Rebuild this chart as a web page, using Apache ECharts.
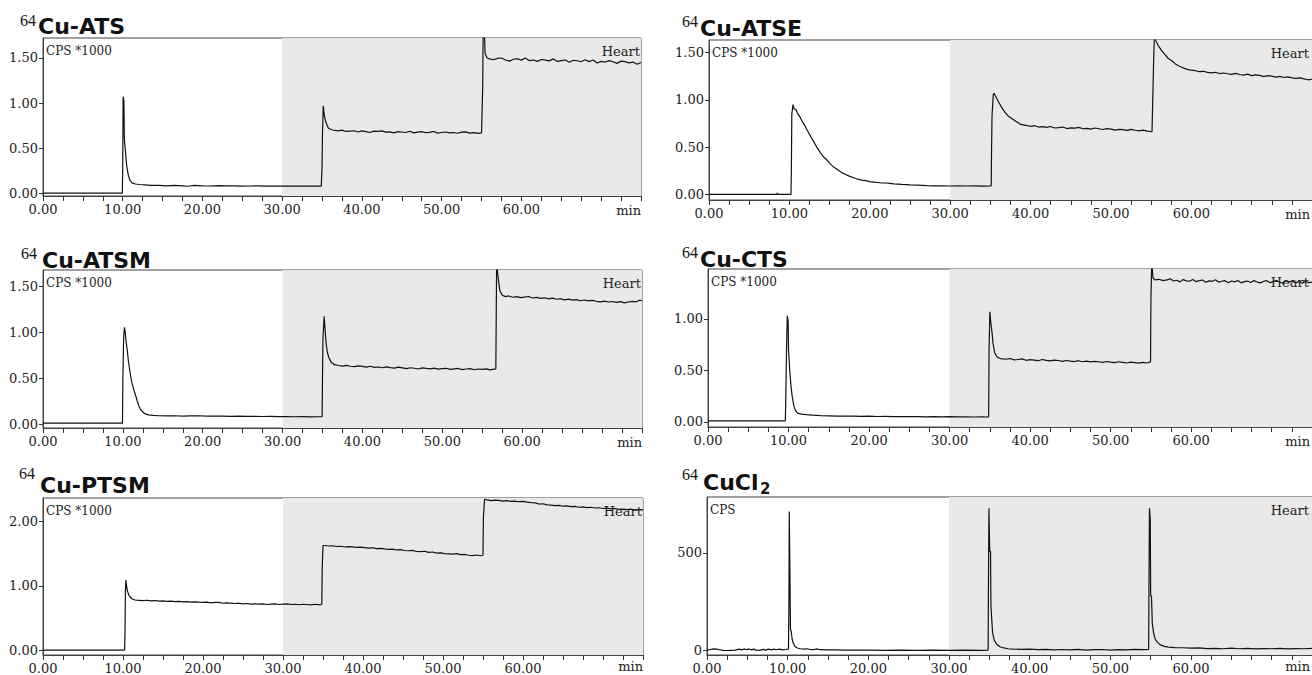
<!DOCTYPE html>
<html>
<head>
<meta charset="utf-8">
<script src="https://cdn.jsdelivr.net/npm/echarts@6/dist/echarts.min.js"></script>
<style>
html, body { margin: 0; padding: 0; background: #fff; }
#main { width: 1312px; height: 675px; }
</style>
</head>
<body>
<div id="main"></div>
<script>
// ---- data (time in min, signal) ----
var xLabelValues = [0, 10, 20, 30, 40, 50, 60];
var xTickValues = [0, 2.5, 5, 7.5, 10, 12.5, 15, 17.5, 20, 22.5, 25, 27.5, 30, 32.5, 35, 37.5,
    40, 42.5, 45, 47.5, 50, 52.5, 55, 57.5, 60, 62.5, 65, 67.5, 70, 72.5, 75];
var shadeFrom = 30, shadeTo = 75;

var yTicksAts = [0, 0.5, 1.0, 1.5];
var yTicksAtse = [0, 0.5, 1.0, 1.5];
var yTicksAtsm = [0, 0.5, 1.0, 1.5];
var yTicksCts = [0, 0.5, 1.0];
var yTicksPtsm = [0, 1.0, 2.0];
var yTicksCucl2 = [0, 500];

var atsTrace = [[0,0],[9.95,0],[10.0,0.3],[10.05,1.07],[10.15,1.02],[10.2,0.6],[10.35,0.45],[10.5,0.3],
    [10.7,0.2],[10.9,0.14],[11.2,0.11],[11.6,0.1],[12.1,0.095],[12.8,0.09],[13.5,0.085],[14.5,0.085],
    [15.5,0.08],[16.5,0.085],[17.5,0.08],[18.2,0.075],[19,0.085],[20,0.08],[21,0.078],[22,0.082],
    [23,0.079],[24,0.08],[25,0.077],[26,0.078],[27,0.08],[28,0.076],[29,0.077],[30,0.078],[31,0.077],
    [32,0.076],[33,0.078],[34,0.077],[34.9,0.077],
    [35.0,0.3],[35.05,0.65],[35.15,0.97],[35.3,0.85],[35.5,0.78],[35.8,0.72],[36.3,0.7],[37,0.69],
    [37.5,0.698],[38,0.684],[38.5,0.688],[39,0.692],[39.5,0.678],[40,0.69],[40.5,0.682],[41,0.672],
    [41.5,0.688],[42,0.684],[42.5,0.69],[43,0.676],[43.5,0.68],[44,0.668],[44.5,0.682],[45,0.678],
    [45.5,0.672],[46,0.686],[46.5,0.668],[47,0.676],[47.5,0.682],[48,0.67],[48.5,0.674],[49,0.684],
    [49.5,0.665],[50,0.672],[50.5,0.678],[51,0.668],[51.5,0.672],[52,0.664],[52.5,0.676],[53,0.68],
    [53.5,0.666],[54,0.67],[54.6,0.662],[55.0,0.668],
    [55.15,1.2],[55.2,1.8],[55.35,1.8],[55.45,1.55],[55.7,1.5],[56,1.49],[56.5,1.48],[57,1.495],
    [57.5,1.5],[58,1.478],[58.5,1.465],[59,1.486],[59.5,1.492],[60,1.476],[60.5,1.5],[61,1.47],
    [61.5,1.478],[62,1.462],[62.5,1.483],[63,1.477],[63.5,1.468],[64,1.49],[64.5,1.462],[65,1.47],
    [65.5,1.478],[66,1.452],[66.5,1.475],[67,1.469],[67.5,1.458],[68,1.48],[68.5,1.46],[69,1.478],
    [69.5,1.445],[70,1.462],[70.5,1.455],[71,1.47],[71.5,1.458],[72,1.44],[72.5,1.465],[73,1.46],
    [73.5,1.446],[74,1.455],[74.5,1.43],[75,1.45]];

var atseTrace = [[0,0],[8.4,0],[8.5,0.012],[8.6,0],[10.2,0],[10.25,0.3],[10.3,0.85],[10.45,0.95],
    [10.6,0.9],[10.8,0.9],[11.0,0.86],[11.3,0.82],[11.6,0.77],[11.9,0.73],[12.2,0.68],[12.6,0.62],
    [13.0,0.56],[13.4,0.5],[13.8,0.45],[14.2,0.4],[14.7,0.36],[15.1,0.32],[15.5,0.29],[16,0.26],
    [16.5,0.23],[17,0.21],[17.5,0.19],[18,0.175],[18.5,0.16],[19,0.15],[19.5,0.145],[20,0.135],
    [20.5,0.13],[21,0.125],[21.5,0.12],[22,0.12],[22.5,0.115],[23,0.11],[23.5,0.108],[24,0.105],
    [25,0.1],[26,0.097],[27,0.093],[28,0.09],[29,0.09],[30,0.088],[31,0.09],[32,0.088],[33,0.089],
    [34,0.087],[35.1,0.09],
    [35.15,0.5],[35.2,0.82],[35.35,1.05],[35.45,1.07],[35.7,1.03],[36,0.98],[36.4,0.92],[36.8,0.87],
    [37.2,0.83],[37.7,0.8],[38.2,0.77],[38.8,0.74],[39.4,0.73],[40,0.72],[40.5,0.726],[41,0.712],
    [41.5,0.716],[42,0.708],[42.5,0.718],[43,0.702],[43.5,0.706],[44,0.712],[44.5,0.696],[45,0.704],
    [45.5,0.7],[46,0.708],[46.5,0.694],[47,0.698],[47.5,0.69],[48,0.702],[48.5,0.694],[49,0.686],
    [49.5,0.696],[50,0.69],[50.5,0.68],[51,0.688],[51.5,0.684],[52,0.676],[52.5,0.688],[53,0.678],
    [53.5,0.672],[54,0.68],[54.5,0.668],[55.1,0.662],
    [55.2,1.03],[55.3,1.4],[55.4,1.7],[55.6,1.62],[55.9,1.57],[56.3,1.52],[56.7,1.48],[57.1,1.44],
    [57.6,1.41],[58,1.38],[58.4,1.36],[58.8,1.345],[59.2,1.33],[59.6,1.32],[60,1.315],[60.5,1.308],
    [61,1.298],[61.5,1.302],[62,1.29],[62.5,1.286],[63,1.292],[63.5,1.278],[64,1.284],[64.5,1.276],
    [65,1.27],[65.5,1.28],[66,1.268],[66.5,1.262],[67,1.272],[67.5,1.256],[68,1.264],[68.5,1.258],
    [69,1.246],[69.5,1.256],[70,1.25],[70.5,1.24],[71,1.248],[71.5,1.236],[72,1.242],[72.5,1.232],
    [73,1.226],[73.5,1.232],[74,1.222],[74.5,1.212],[75,1.218]];

var atsmTrace = [[0,0.01],[9.95,0.01],[10.0,0.5],[10.1,0.95],[10.2,1.05],[10.3,1.0],[10.4,0.9],
    [10.55,0.8],[10.7,0.68],[10.9,0.56],[11.1,0.46],[11.35,0.38],[11.6,0.31],[11.8,0.25],[12.0,0.2],
    [12.2,0.16],[12.5,0.13],[12.8,0.11],[13.2,0.1],[13.8,0.095],[14.5,0.09],[15.5,0.088],[16.5,0.09],
    [17.5,0.086],[18.5,0.088],[19.5,0.09],[20.5,0.087],[21.5,0.085],[22.5,0.086],[23.5,0.084],
    [24.5,0.085],[25.5,0.083],[26.5,0.084],[27.5,0.082],[28.5,0.083],[29.5,0.08],[30.5,0.082],
    [31.5,0.079],[32.5,0.081],[33.5,0.078],[34.5,0.079],[34.95,0.08],
    [35.0,0.55],[35.05,0.92],[35.2,1.17],[35.3,1.05],[35.45,0.88],[35.6,0.78],[35.8,0.72],[36.1,0.67],
    [36.5,0.645],[37,0.636],[37.5,0.63],[38,0.638],[38.5,0.628],[39,0.624],[39.5,0.632],[40,0.626],
    [40.5,0.618],[41,0.628],[41.5,0.616],[42,0.62],[42.5,0.612],[43,0.622],[43.5,0.614],[44,0.608],
    [44.5,0.618],[45,0.61],[45.5,0.602],[46,0.612],[46.5,0.606],[47,0.598],[47.5,0.61],[48,0.604],
    [48.5,0.6],[49,0.608],[49.5,0.596],[50,0.602],[50.5,0.606],[51,0.594],[51.5,0.6],[52,0.604],
    [52.5,0.592],[53,0.598],[53.5,0.602],[54,0.59],[54.5,0.598],[55,0.594],[55.5,0.6],[56,0.588],
    [56.5,0.596],[56.7,0.6],
    [56.75,1.2],[56.8,1.75],[56.95,1.62],[57.05,1.55],[57.2,1.45],[57.5,1.4],[57.9,1.385],[58.3,1.392],
    [58.8,1.378],[59.3,1.384],[59.8,1.374],[60.3,1.38],[60.8,1.386],[61.3,1.37],[61.8,1.376],
    [62.3,1.366],[62.8,1.372],[63.3,1.36],[63.8,1.368],[64.3,1.356],[64.8,1.362],[65.3,1.35],
    [65.8,1.358],[66.3,1.346],[66.8,1.352],[67.3,1.34],[67.8,1.348],[68.3,1.338],[68.8,1.344],
    [69.3,1.334],[69.8,1.328],[70.3,1.336],[70.8,1.326],[71.3,1.332],[71.8,1.322],[72.3,1.33],
    [72.8,1.316],[73.3,1.326],[73.8,1.334],[74.3,1.328],[74.7,1.346],[75,1.34]];

var ctsTrace = [[0,0.01],[9.6,0.01],[9.65,0.18],[9.75,0.7],[9.85,1.03],[9.95,0.98],[10.0,0.7],
    [10.15,0.5],[10.3,0.35],[10.45,0.25],[10.65,0.16],[10.85,0.11],[11.15,0.085],[11.6,0.075],
    [12.2,0.07],[13,0.065],[14,0.06],[15,0.058],[16,0.055],[17,0.057],[18,0.055],[19,0.053],
    [20,0.055],[21,0.052],[22,0.054],[23,0.05],[24,0.052],[25,0.05],[26,0.051],[27,0.049],[28,0.05],
    [29,0.048],[30,0.05],[31,0.048],[32,0.049],[33,0.047],[34,0.048],[34.85,0.047],
    [34.9,0.7],[35.0,1.07],[35.1,0.98],[35.25,0.88],[35.4,0.76],[35.6,0.67],[35.9,0.63],[36.3,0.615],
    [37,0.608],[37.5,0.615],[38,0.602],[38.5,0.606],[39,0.612],[39.5,0.598],[40,0.604],[40.5,0.6],
    [41,0.594],[41.5,0.606],[42,0.598],[42.5,0.592],[43,0.6],[43.5,0.596],[44,0.588],[44.5,0.596],
    [45,0.59],[45.5,0.586],[46,0.594],[46.5,0.584],[47,0.59],[47.5,0.582],[48,0.588],[48.5,0.584],
    [49,0.578],[49.5,0.586],[50,0.58],[50.5,0.576],[51,0.584],[51.5,0.578],[52,0.572],[52.5,0.58],
    [53,0.576],[53.5,0.57],[54,0.578],[54.5,0.572],[54.95,0.582],
    [55.0,1.2],[55.1,1.55],[55.25,1.4],[55.5,1.38],[56,1.385],[56.5,1.372],[57,1.38],[57.4,1.39],
    [57.8,1.368],[58.2,1.376],[58.6,1.36],[59,1.382],[59.4,1.37],[59.8,1.366],[60.2,1.384],
    [60.6,1.362],[61,1.372],[61.4,1.378],[61.8,1.356],[62.2,1.37],[62.6,1.364],[63,1.38],[63.4,1.358],
    [63.8,1.366],[64.2,1.372],[64.6,1.352],[65,1.368],[65.4,1.36],[65.8,1.374],[66.2,1.35],
    [66.6,1.362],[67,1.368],[67.4,1.354],[67.8,1.372],[68.2,1.358],[68.6,1.35],[69,1.366],
    [69.4,1.372],[69.8,1.352],[70.2,1.362],[70.6,1.374],[71,1.356],[71.4,1.348],[71.8,1.368],
    [72.2,1.36],[72.6,1.37],[73,1.352],[73.4,1.362],[73.8,1.346],[74.2,1.366],[74.6,1.352],[75,1.358]];

var ptsmTrace = [[0,0],[10.2,0],[10.25,0.28],[10.3,0.9],[10.35,1.09],[10.45,1.0],[10.55,0.92],
    [10.75,0.85],[11.1,0.8],[11.5,0.78],[12,0.775],[12.5,0.77],[13,0.776],[13.5,0.766],[14,0.772],
    [14.5,0.762],[15,0.766],[15.5,0.758],[16,0.762],[16.5,0.756],[17,0.76],[17.5,0.752],[18,0.756],
    [18.5,0.748],[19,0.752],[19.5,0.746],[20,0.742],[20.5,0.746],[21,0.736],[21.5,0.742],[22,0.744],
    [22.5,0.73],[23,0.736],[23.5,0.73],[24,0.726],[24.5,0.73],[25,0.72],[25.5,0.726],[26,0.716],
    [26.5,0.72],[27,0.716],[27.5,0.72],[28,0.71],[28.5,0.716],[29,0.72],[29.5,0.71],[30,0.716],
    [30.5,0.72],[31,0.71],[31.5,0.714],[32,0.706],[32.5,0.714],[33,0.71],[33.5,0.704],[34,0.714],
    [34.6,0.704],[34.85,0.71],
    [34.9,1.27],[35.0,1.63],[35.3,1.63],[35.7,1.622],[36.2,1.626],[36.7,1.614],[37.2,1.618],
    [37.7,1.606],[38.2,1.612],[38.7,1.608],[39.2,1.6],[39.7,1.604],[40.2,1.596],[40.7,1.588],
    [41.2,1.594],[41.7,1.58],[42.2,1.584],[42.7,1.576],[43.2,1.57],[43.7,1.574],[44.2,1.56],
    [44.7,1.566],[45.2,1.552],[45.7,1.548],[46.2,1.554],[46.7,1.536],[47.2,1.534],[47.7,1.54],
    [48.2,1.522],[48.7,1.528],[49.2,1.512],[49.7,1.516],[50.2,1.504],[50.7,1.5],[51.2,1.496],
    [51.7,1.502],[52.2,1.488],[52.7,1.49],[53.2,1.478],[53.7,1.472],[54.2,1.482],[54.7,1.47],
    [55.0,1.478],
    [55.05,2.07],[55.2,2.35],[55.5,2.34],[56,2.328],[56.5,2.338],[57,2.332],[57.5,2.322],[58,2.33],
    [58.5,2.318],[59,2.322],[59.5,2.312],[60,2.318],[60.5,2.306],[61,2.298],[61.5,2.294],[62,2.276],
    [62.5,2.28],[63,2.262],[63.5,2.258],[64,2.25],[64.5,2.256],[65,2.242],[65.5,2.246],[66,2.236],
    [66.5,2.24],[67,2.226],[67.5,2.232],[68,2.22],[68.5,2.226],[69,2.214],[69.5,2.218],[70,2.206],
    [70.5,2.212],[71,2.2],[71.5,2.206],[72,2.194],[72.5,2.198],[73,2.19],[73.5,2.196],[74,2.18],
    [74.5,2.188],[75,2.184]];

var cucl2Trace = [[0,3],[0.4,6],[0.8,9],[1.2,8],[1.6,5],[2.0,2],[2.5,1],[3.0,2],[3.5,3],[4.0,8],
    [4.3,4],[4.6,9],[4.9,5],[5.2,9],[5.5,4],[5.8,8],[6.1,3],[6.5,2],[7.0,7],[7.3,3],[7.6,8],[8.0,4],
    [8.3,8],[8.6,5],[9.0,8],[9.4,4],[9.8,6],[10.1,8],[10.15,200],[10.2,712],[10.25,517],[10.3,517],
    [10.35,110],[10.45,97],[10.55,60],[10.7,38],[10.9,22],[11.2,14],[11.6,10],[12.0,8],[12.4,10],
    [12.8,6],[13.2,5],[13.6,9],[14.0,5],[15,4],[16,4],[17,3],[18,3],[19,3],[20,3],[22,2],[24,3],
    [26,2],[28,3],[30,2],[32,3],[34,2],[34.85,3],
    [34.9,400],[34.95,729],[35.05,508],[35.15,508],[35.2,229],[35.3,160],[35.4,93],[35.6,55],
    [35.9,34],[36.3,20],[36.8,14],[37.3,10],[38,8],[39,7],[40,8],[41,5],[42,7],[43,4],[44,6],[45,4],
    [46,7],[47,3],[48,5],[49,6],[50,3],[51,5],[52,4],[53,7],[54,5],[54.75,6],
    [54.8,400],[54.85,729],[54.95,670],[55.0,280],[55.1,280],[55.2,140],[55.35,93],[55.55,60],
    [55.8,45],[56.2,30],[56.7,22],[57.2,18],[58,16],[59,15],[60,13],[61,14],[62,11],[63,12],[64,10],
    [65,13],[66,10],[67,12],[68,9],[69,11],[70,10],[71,12],[72,9],[73,11],[74,10],[75,12]];

// ---- panel layout ----
var panels = [
    { title: 'Cu-ATS', trace: atsTrace, yTicks: yTicksAts, unit: 'CPS *1000', dec: 2,
      left: 43, top: 38, width: 598, height: 158, yMin: -0.033, yMax: 1.722,
      sup: [20, 20], main: [38, 26] },
    { title: 'Cu-ATSE', trace: atseTrace, yTicks: yTicksAtse, unit: 'CPS *1000', dec: 2,
      left: 709, top: 40, width: 605, height: 160, yMin: -0.06, yMax: 1.633,
      sup: [682, 21], main: [700, 28] },
    { title: 'Cu-ATSM', trace: atsmTrace, yTicks: yTicksAtsm, unit: 'CPS *1000', dec: 2,
      left: 43, top: 270, width: 599, height: 158, yMin: -0.043, yMax: 1.674,
      sup: [21, 253], main: [42, 260] },
    { title: 'Cu-CTS', trace: ctsTrace, yTicks: yTicksCts, unit: 'CPS *1000', dec: 2,
      left: 708, top: 269, width: 607, height: 158, yMin: -0.05, yMax: 1.485,
      sup: [682, 252], main: [700, 259] },
    { title: 'Cu-PTSM', trace: ptsmTrace, yTicks: yTicksPtsm, unit: 'CPS *1000', dec: 2,
      left: 43, top: 498, width: 600, height: 159, yMin: -0.077, yMax: 2.37,
      sup: [19, 473], main: [40, 485] },
    { title: 'CuCl', sub: '2', trace: cucl2Trace, yTicks: yTicksCucl2, unit: 'CPS', dec: 0,
      left: 707, top: 497, width: 607, height: 159, yMin: -22, yMax: 786,
      sup: [682, 474], main: [703, 482] }
];

var labelFont = 'DejaVu Serif';
var rightLimit = 1310;   // keep corner texts inside the page
var bottomLimit = 666;
var grids = [], xAxes = [], yAxes = [], series = [], graphics = [];

panels.forEach(function (p, i) {
    var rightX = Math.min(p.left + p.width, rightLimit);
    grids.push({
        left: p.left, top: p.top, width: p.width, height: p.height,
        show: true, borderColor: '#444', borderWidth: 1, backgroundColor: 'transparent'
    });
    xAxes.push({
        gridIndex: i, type: 'value', min: 0, max: shadeTo,
        axisLine: { show: true, onZero: false, lineStyle: { color: '#444', width: 1 } },
        axisTick: { show: true, length: 5, customValues: xTickValues, lineStyle: { color: '#333' } },
        axisLabel: {
            customValues: xLabelValues, margin: 7, color: '#222',
            fontFamily: labelFont, fontSize: 13,
            formatter: function (v) { return v.toFixed(2); }
        },
        splitLine: { show: false }
    });
    yAxes.push({
        gridIndex: i, type: 'value', min: p.yMin, max: p.yMax,
        axisLine: { show: true, lineStyle: { color: '#444', width: 1 } },
        axisTick: { show: true, length: 4, customValues: p.yTicks, lineStyle: { color: '#333' } },
        axisLabel: {
            customValues: p.yTicks, margin: 5, color: '#222',
            fontFamily: labelFont, fontSize: 13,
            formatter: function (v) { return v.toFixed(p.dec); }
        },
        splitLine: { show: false }
    });
    series.push({
        type: 'line', xAxisIndex: i, yAxisIndex: i, data: p.trace,
        showSymbol: false, symbol: 'none', clip: true, animation: false,
        lineStyle: { color: '#111', width: 1.2 },
        markArea: {
            silent: true,
            itemStyle: { color: '#e9e9e9' },
            data: [[{ xAxis: shadeFrom }, { xAxis: shadeTo }]]
        }
    });

    // titles: superscript mass number + compound
    graphics.push({ type: 'text', x: p.sup[0], y: p.sup[1], z: 10,
        style: { text: '64', fontFamily: 'Liberation Serif', fontSize: 16, fill: '#111',
                 align: 'left', verticalAlign: 'middle' } });
    graphics.push({ type: 'text', x: p.main[0], y: p.main[1], z: 10,
        style: { text: p.title, fontFamily: 'DejaVu Sans', fontWeight: 'bold', fontSize: 22,
                 fill: '#111', align: 'left', verticalAlign: 'middle' } });
    if (p.sub) {
        graphics.push({ type: 'text', x: p.main[0] + 57, y: p.main[1] + 7, z: 10,
            style: { text: p.sub, fontFamily: 'DejaVu Sans', fontWeight: 'bold', fontSize: 15,
                     fill: '#111', align: 'left', verticalAlign: 'middle' } });
    }
    graphics.push({ type: 'text', x: p.left + 3, y: p.top + 13, z: 10,
        style: { text: p.unit, fontFamily: labelFont, fontSize: 12, fill: '#222',
                 align: 'left', verticalAlign: 'middle' } });
    graphics.push({ type: 'text', x: rightX - 1, y: p.top + 13, z: 10,
        style: { text: 'Heart', fontFamily: labelFont, fontSize: 13, fill: '#222',
                 align: 'right', verticalAlign: 'middle' } });
    graphics.push({ type: 'text', x: rightX, y: Math.min(p.top + p.height + 14, bottomLimit), z: 10,
        style: { text: 'min', fontFamily: labelFont, fontSize: 13, fill: '#222',
                 align: 'right', verticalAlign: 'middle' } });
});

var option = {
    animation: false,
    backgroundColor: '#fff',
    grid: grids,
    xAxis: xAxes,
    yAxis: yAxes,
    series: series,
    graphic: graphics
};

var myChart = echarts.init(document.getElementById('main'), null, { renderer: 'svg' });
myChart.setOption(option);
</script>
</body>
</html>
